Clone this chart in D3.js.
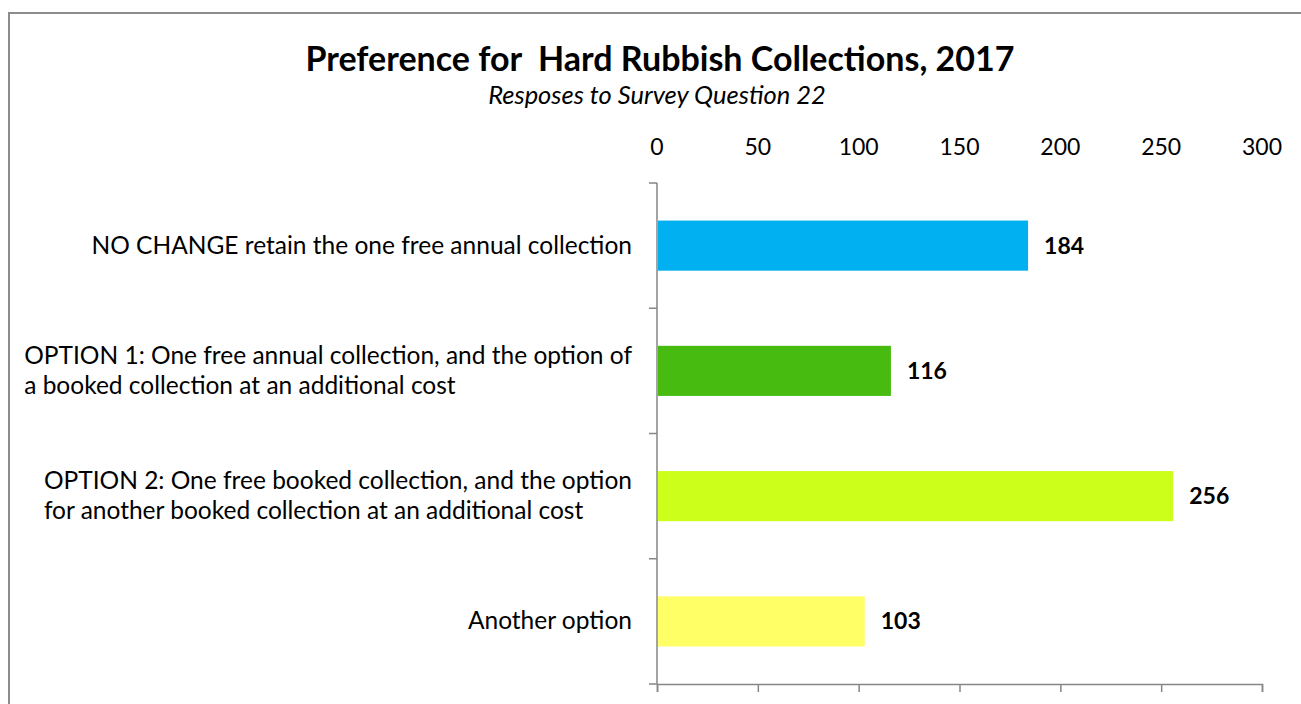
<!DOCTYPE html>
<html>
<head>
<meta charset="utf-8">
<script src="https://cdn.jsdelivr.net/npm/d3@7/dist/d3.min.js"></script>
<style>
  html, body { margin: 0; padding: 0; background: #fff; }
  svg { display: block; }
  text { font-family: Lato, "Open Sans", sans-serif; fill: #000; }
</style>
</head>
<body>
<svg id="chart" width="1301" height="704"></svg>
<script>
// Survey responses, question 22
const categories = [
  "NO CHANGE retain the one free annual collection",
  "OPTION 1: One free annual collection, and the option of|a booked collection at an additional cost",
  "OPTION 2: One free booked collection, and the option|for another booked collection at an additional cost",
  "Another option"
];
const responses = [184, 116, 256, 103];
const barColors = ["#00B0F0", "#47BB10", "#CCFF1A", "#FFFF66"];
const tickValues = [0, 50, 100, 150, 200, 250, 300];

const titleText = "Preference for\u00A0\u00A0Hard Rubbish Collections, 2017";
const subtitleText = "Resposes to Survey Question 22";

const svg = d3.select("#chart");
const W = 1301, H = 704;
const plot = { left: 657, right: 1262, top: 183, bottom: 684 };
const axisColor = "#868686";

// chart frame
svg.append("rect")
  .attr("x", 9).attr("y", 13)
  .attr("width", W + 50).attr("height", H + 50)
  .attr("fill", "none").attr("stroke", "#8c8c8c").attr("stroke-width", 2);

// title
svg.append("text")
  .attr("x", 660).attr("y", 71)
  .attr("text-anchor", "middle")
  .style("font-size", "34px").style("font-weight", "bold")
  .text(titleText);
svg.append("text")
  .attr("x", 657).attr("y", 104)
  .attr("text-anchor", "middle")
  .style("font-size", "25.5px").style("font-style", "italic")
  .text(subtitleText);

const x = d3.scaleLinear().domain([0, 300]).range([plot.left, plot.right]);
const y = d3.scaleBand().domain(d3.range(categories.length))
  .range([plot.top, plot.bottom]).paddingInner(0.6).paddingOuter(0.3);

// value labels along the top
svg.append("g").selectAll("text")
  .data(tickValues).join("text")
  .attr("x", d => x(d)).attr("y", 155)
  .attr("text-anchor", "middle")
  .style("font-size", "23px")
  .text(d => d);

// bottom axis: line with ticks, no labels
const bottomAxis = svg.append("g")
  .attr("transform", `translate(0,${plot.bottom})`)
  .call(d3.axisBottom(x).tickValues(tickValues).tickFormat("").tickSize(8).tickSizeOuter(8));
bottomAxis.selectAll("path, line").attr("stroke", axisColor).attr("stroke-width", 1.5);

// category axis with ticks at band boundaries
const step = y.step();
const boundaries = d3.range(categories.length + 1).map(i => plot.top + i * step);
const leftAxis = svg.append("g");
leftAxis.append("line")
  .attr("x1", plot.left).attr("x2", plot.left)
  .attr("y1", plot.top).attr("y2", plot.bottom)
  .attr("stroke", axisColor).attr("stroke-width", 1.5);
leftAxis.selectAll("line.tick")
  .data(boundaries).join("line")
  .attr("class", "tick")
  .attr("x1", plot.left - 8).attr("x2", plot.left)
  .attr("y1", d => d).attr("y2", d => d)
  .attr("stroke", axisColor).attr("stroke-width", 1.5);

// bars
svg.append("g").selectAll("rect")
  .data(responses).join("rect")
  .attr("x", x(0) + 1)
  .attr("y", (d, i) => y(i))
  .attr("width", d => x(d) - x(0) - 1)
  .attr("height", y.bandwidth())
  .attr("fill", (d, i) => barColors[i]);

// data labels
svg.append("g").selectAll("text")
  .data(responses).join("text")
  .attr("x", d => x(d) + 16)
  .attr("y", (d, i) => y(i) + y.bandwidth() / 2 + 8)
  .style("font-size", "23px").style("font-weight", "bold")
  .text(d => d);

// category labels: left-aligned lines in a block right-aligned at the axis
const labelRight = 632, lineH = 30;
categories.forEach((c, i) => {
  const lines = c.split("|");
  const cy = y(i) + y.bandwidth() / 2;
  const t = svg.append("text").style("font-size", "24.5px");
  lines.forEach((ln, j) => {
    t.append("tspan")
      .attr("y", cy + 8 + (j - (lines.length - 1) / 2) * lineH)
      .text(ln);
  });
  let maxW = 0;
  t.selectAll("tspan").each(function () { maxW = Math.max(maxW, this.getComputedTextLength()); });
  t.selectAll("tspan").attr("x", labelRight - maxW);
});
</script>
</body>
</html>
